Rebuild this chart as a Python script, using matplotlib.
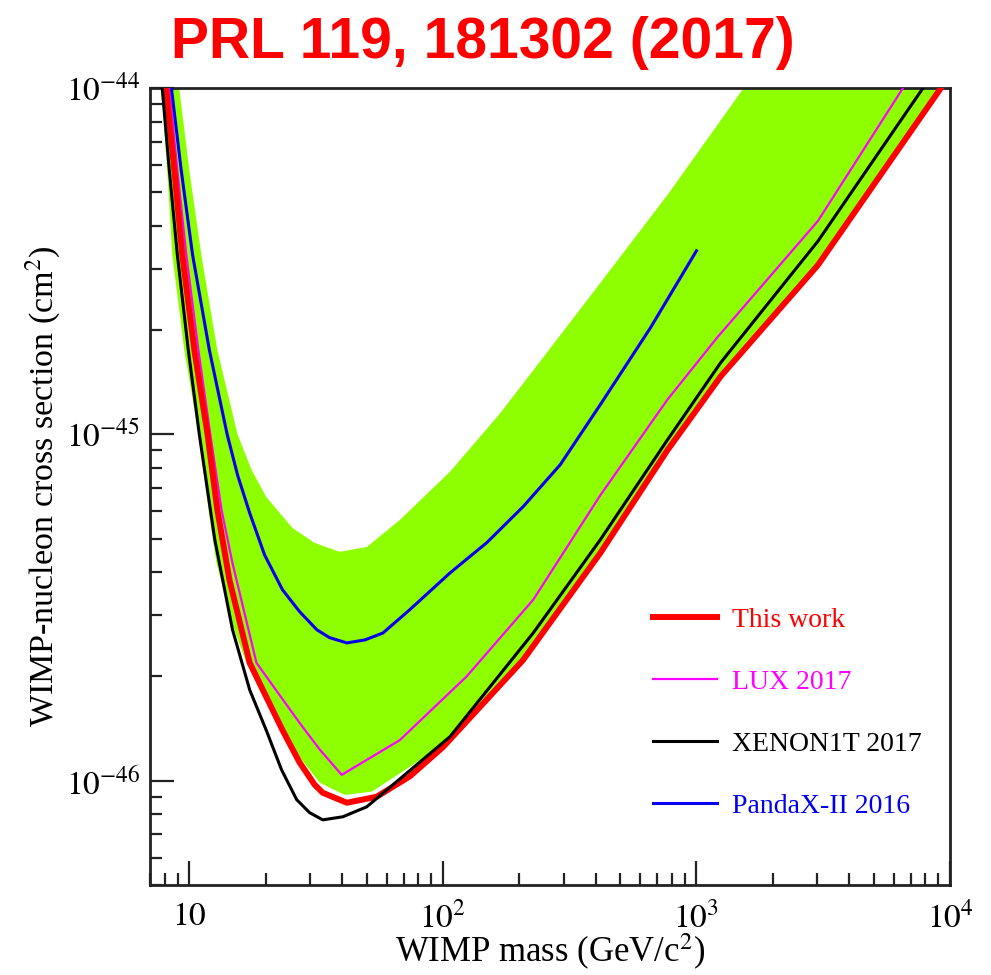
import matplotlib
matplotlib.use("Agg")
import matplotlib.pyplot as plt
import matplotlib.ticker as mtick
import numpy as np

plt.rcParams['font.family'] = ['Liberation Serif', 'DejaVu Serif']
plt.rcParams['mathtext.fontset'] = 'stix'

# values: WIMP mass (GeV/c^2) and cross section (cm^2)
this_work_mass = [8.1, 8.73, 9.38, 10.47, 11.8, 12.9, 14.4, 17.3, 23.3, 27.2, 31.2, 33.6, 41.8, 54.8, 74.1, 100,
                  207, 418, 768, 1245, 3010, 9200]
this_work_xs = [1e-44, 5.79e-45, 3.3e-45, 1.75e-45, 1e-45, 6.05e-46, 3.8e-46, 2.19e-46, 1.40e-46, 1.13e-46,
                9.74e-47, 9.23e-47, 8.64e-47, 8.99e-47, 1.03e-46, 1.25e-46, 2.23e-46, 4.55e-46, 9.0e-46,
                1.47e-45, 3.08e-45, 1e-44]

lux_mass = [8.34, 8.97, 9.73, 10.86, 12.1, 13.4, 14.8, 18.4, 27.2, 32.7, 39.9, 67.6, 124, 227, 418, 768, 1211,
            3010, 6520]
lux_xs = [1e-44, 5.79e-45, 3.3e-45, 1.75e-45, 1e-45, 6.05e-46, 4.25e-46, 2.19e-46, 1.47e-46, 1.23e-46, 1.04e-46,
          1.31e-46, 2.0e-46, 3.33e-46, 6.68e-46, 1.26e-45, 1.91e-45, 4.13e-45, 1e-44]

xenon_mass = [7.82, 8.34, 8.97, 9.91, 10.95, 12.6, 14.8, 17.3, 20.1, 23.1, 26.5, 29.8, 33.6, 40.3, 50.1, 106.6,
              227, 418, 768, 1245, 3010, 7820]
xenon_xs = [1e-44, 5.79e-45, 3.3e-45, 1.75e-45, 1e-45, 4.97e-46, 2.73e-46, 1.83e-46, 1.40e-46, 1.076e-46,
            8.82e-47, 8.09e-47, 7.71e-47, 7.87e-47, 8.41e-47, 1.34e-46, 2.67e-46, 4.97e-46, 9.64e-46,
            1.61e-45, 3.61e-45, 1e-44]

pandax_mass = [8.5, 9.29, 10.3, 12.0, 14.1, 15.5, 17.3, 19.8, 23.3, 27.2, 31.8, 35.7, 41.8, 49.2, 58.0, 74.1,
               106.6, 149, 207, 290, 418, 658, 1000]
pandax_xs = [1e-44, 5.79e-45, 3.3e-45, 1.75e-45, 1e-45, 7.63e-46, 5.93e-46, 4.49e-46, 3.56e-46, 3.08e-46,
             2.73e-46, 2.59e-46, 2.50e-46, 2.55e-46, 2.67e-46, 3.12e-46, 3.98e-46, 4.87e-46, 6.18e-46,
             8.17e-46, 1.22e-45, 2.03e-45, 3.39e-45]

# green band: upper and lower edge
band_up_mass = [9.12, 10.0, 11.15, 12.9, 15.5, 17.6, 20.1, 25.5, 31.2, 39.2, 50.1, 67.6, 106.6, 168, 227,
                418, 768, 1535]
band_up_xs = [1e-44, 5.79e-45, 3.3e-45, 1.75e-45, 1e-45, 7.9e-46, 6.6e-46, 5.37e-46, 4.86e-46, 4.58e-46,
              4.73e-46, 5.66e-46, 7.8e-46, 1.15e-45, 1.53e-45, 2.74e-45, 4.91e-45, 1e-44]
band_lo_mass = [7.74, 8.18, 8.57, 9.55, 10.9, 11.9, 12.8, 14.8, 16.8, 19.8, 23.3, 27.2, 32.7, 41, 52.4, 67.6,
                100, 207, 418, 768, 1245, 3010, 9400]
band_lo_xs = [1e-44, 5.79e-45, 3.3e-45, 1.75e-45, 1e-45, 6.05e-46, 4.25e-46, 2.82e-46, 2.19e-46, 1.71e-46,
              1.40e-46, 1.17e-46, 9.87e-47, 9.1e-47, 9.3e-47, 1.05e-46, 1.27e-46, 2.2e-46, 4.5e-46, 8.9e-46,
              1.45e-45, 3.0e-45, 1e-44]

xtick_vals = [10, 100, 1000, 10000]
xtick_labels = ['$10$', '$10^2$', '$10^3$', '$10^4$']
ytick_vals = [1e-46, 1e-45, 1e-44]
ytick_labels = ['$10^{-46}$', '$10^{-45}$', '$10^{-44}$']

fig = plt.figure(figsize=(9.91, 9.75), dpi=100)
ax = fig.add_axes([0.1514, 0.0923, 0.8073, 0.8174])

ax.fill(np.r_[band_up_mass, band_lo_mass[::-1]], np.r_[band_up_xs, band_lo_xs[::-1]],
        color='#8dff00', lw=0, zorder=1)

l_red, = ax.plot(this_work_mass, this_work_xs, color='#ff0000', lw=4.3, zorder=4, label='This work')
l_lux, = ax.plot(lux_mass, lux_xs, color='#ff00ff', lw=1.6, zorder=3, label='LUX 2017')
l_xe, = ax.plot(xenon_mass, xenon_xs, color='black', lw=2.2, zorder=5, label='XENON1T 2017')
l_pdx, = ax.plot(pandax_mass, pandax_xs, color='#0000ee', lw=2.2, zorder=3, label='PandaX-II 2016')

ax.set_xscale('log')
ax.set_yscale('log')
ax.set_xlim(7.0, 1e4)
ax.set_ylim(5e-47, 1e-44)

ax.xaxis.set_major_locator(mtick.FixedLocator(xtick_vals))
ax.xaxis.set_major_formatter(mtick.FixedFormatter(xtick_labels))
ax.yaxis.set_major_locator(mtick.FixedLocator(ytick_vals))
ax.yaxis.set_major_formatter(mtick.FixedFormatter(ytick_labels))
ax.xaxis.set_minor_locator(mtick.LogLocator(base=10, subs=np.arange(2, 10)))
ax.yaxis.set_minor_locator(mtick.LogLocator(base=10, subs=np.arange(2, 10)))
ax.xaxis.set_minor_formatter(mtick.NullFormatter())
ax.yaxis.set_minor_formatter(mtick.NullFormatter())

ax.tick_params(which='both', direction='in', top=False, right=False, width=1.6, color='#222222')
ax.tick_params(which='major', length=17, labelsize=24)
ax.tick_params(which='minor', length=8.5)
ax.tick_params(axis='x', which='major', pad=12)
ax.tick_params(axis='y', which='major', pad=7)
for s in ax.spines.values():
    s.set_linewidth(2.0)
    s.set_color('#222222')

ax.set_xlabel('WIMP mass (GeV/c$^2$)', fontsize=25, labelpad=-2)
ax.set_ylabel('WIMP-nucleon cross section (cm$^2$)', fontsize=24.5, labelpad=3)

ax.legend(handles=[l_red, l_lux, l_xe, l_pdx], loc='upper left', bbox_to_anchor=(0.611, 0.366),
          frameon=False, fontsize=20, labelcolor='linecolor', handlelength=2.3,
          handletextpad=0.55, labelspacing=1.32, borderpad=0)

fig.text(0.487, 0.941, 'PRL 119, 181302 (2017)', color='#ff0000', fontsize=41,
         fontweight='bold', family=['Liberation Sans', 'DejaVu Sans'], ha='center', va='baseline')

fig.savefig('out.png', dpi=100)
